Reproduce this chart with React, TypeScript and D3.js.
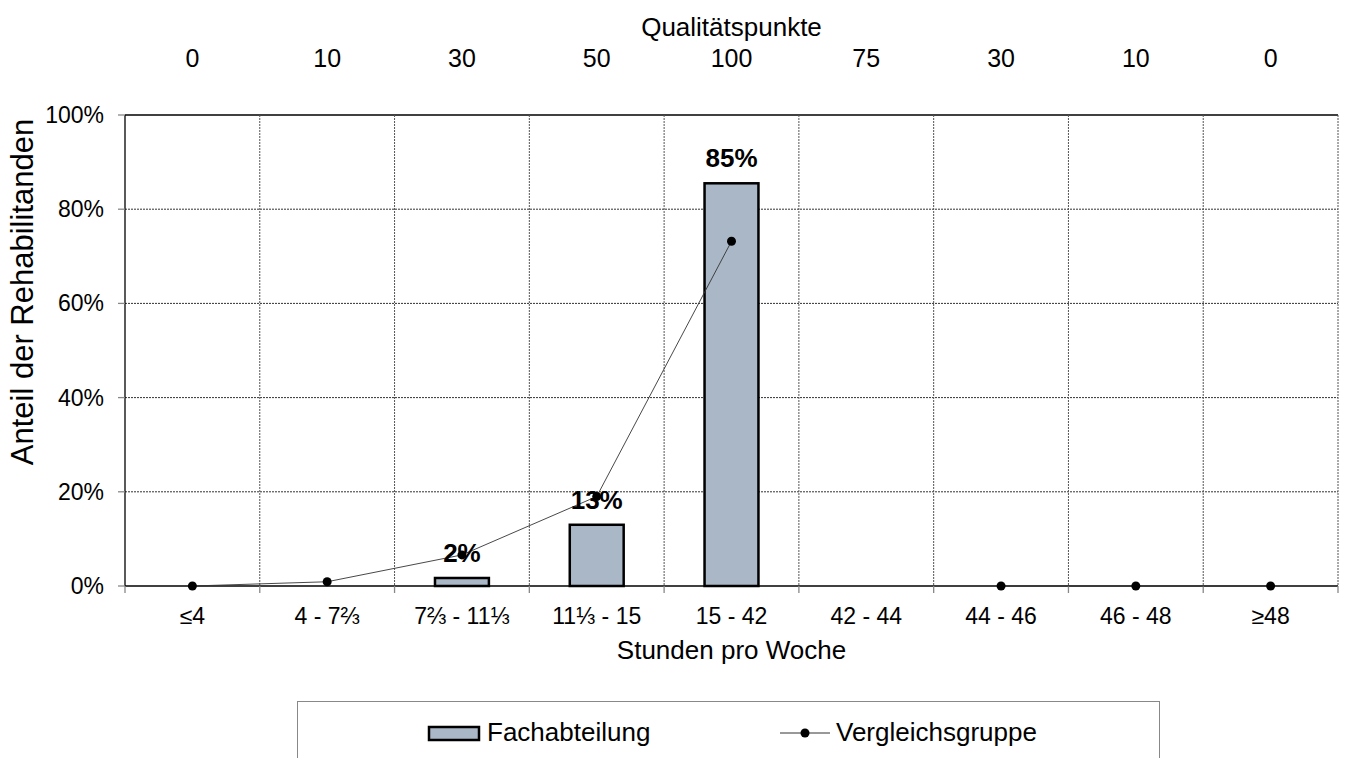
import React from "react";
import * as d3 from "d3";

const categories = ["≤4", "4 - 7⅔", "7⅔ - 11⅓", "11⅓ - 15", "15 - 42", "42 - 44", "44 - 46", "46 - 48", "≥48"];
const qualityPoints = ["0", "10", "30", "50", "100", "75", "30", "10", "0"];
const fachabteilung: (number | null)[] = [null, null, 1.7, 13.0, 85.5, null, null, null, null];
const fachLabels: (string | null)[] = [null, null, "2%", "13%", "85%", null, null, null, null];
const vergleichsgruppe: (number | null)[] = [0, 0.9, 6.6, 19.0, 73.2, null, 0, 0, 0];
const yTicks = [0, 20, 40, 60, 80, 100];

const W = 1346, H = 758;
const left = 125, right = 1338, top = 115, bottom = 586;
const FONT = "'Liberation Sans', Arial, sans-serif";

export default function App() {
  const x = d3.scaleBand<string>().domain(categories).range([left, right]).paddingInner(0).paddingOuter(0);
  const y = d3.scaleLinear().domain([0, 100]).range([bottom, top]);
  const bw = x.bandwidth();
  const barW = bw * 0.4;
  const cx = (c: string) => (x(c) as number) + bw / 2;

  const line = d3.line<[string, number | null]>()
    .defined(d => d[1] !== null)
    .x(d => cx(d[0]))
    .y(d => y(d[1] as number));
  const pts: [string, number | null][] = categories.map((c, i) => [c, vergleichsgruppe[i]]);

  const boundaries = d3.range(categories.length + 1).map(i => left + i * bw);

  return (
    <svg width={W} height={H} style={{ position: "absolute", left: 0, top: 0, fontFamily: FONT }}>
      <rect x={0} y={0} width={W} height={H} fill="#fff" />
      {/* horizontal gridlines */}
      {yTicks.filter(t => t > 0 && t < 100).map(t => (
        <line key={"hg" + t} x1={left} x2={right} y1={y(t)} y2={y(t)} stroke="#333" strokeWidth={1} strokeDasharray="2,1" />
      ))}
      <line x1={left} x2={right} y1={y(100)} y2={y(100)} stroke="#000" strokeWidth={1.3} />
      {/* vertical gridlines */}
      {boundaries.slice(1).map((bx, i) => (
        <line key={"vg" + i} x1={bx} x2={bx} y1={top} y2={bottom} stroke="#555" strokeWidth={1} strokeDasharray="2,1" />
      ))}
      {/* y axis */}
      <line x1={left} x2={left} y1={top} y2={bottom} stroke="#000" strokeWidth={1.3} />
      {yTicks.map(t => (
        <g key={"yt" + t}>
          <line x1={left - 7} x2={left} y1={y(t)} y2={y(t)} stroke="#888" strokeWidth={1.3} />
          <text x={104} y={y(t)} dy="0.35em" textAnchor="end" fontSize={23}>{t}%</text>
        </g>
      ))}
      {/* bars */}
      {categories.map((c, i) => fachabteilung[i] === null ? null : (
        <rect key={"b" + i} x={cx(c) - barW / 2} y={y(fachabteilung[i] as number)} width={barW}
          height={bottom - y(fachabteilung[i] as number)} fill="#a9b7c6" stroke="#000" strokeWidth={2.5} />
      ))}
      {/* x axis */}
      <line x1={left} x2={right} y1={bottom} y2={bottom} stroke="#000" strokeWidth={1.5} />
      {boundaries.map((bx, i) => (
        <line key={"xt" + i} x1={bx} x2={bx} y1={bottom} y2={bottom + 7} stroke="#888" strokeWidth={1.3} />
      ))}
      {categories.map(c => (
        <text key={"xl" + c} x={cx(c)} y={624} textAnchor="middle" fontSize={23}>{c}</text>
      ))}
      <text x={(left + right) / 2} y={659} textAnchor="middle" fontSize={26}>Stunden pro Woche</text>
      {/* top axis */}
      <text x={(left + right) / 2} y={36} textAnchor="middle" fontSize={26}>Qualitätspunkte</text>
      {categories.map((c, i) => (
        <text key={"qp" + i} x={cx(c)} y={67} textAnchor="middle" fontSize={25}>{qualityPoints[i]}</text>
      ))}
      {/* y label */}
      <text transform={`translate(33,${292}) rotate(-90)`} textAnchor="middle" fontSize={31}>Anteil der Rehabilitanden</text>
      {/* line series */}
      <path d={line(pts) || ""} fill="none" stroke="#333" strokeWidth={0.9} />
      {pts.filter(d => d[1] !== null).map((d, i) => (
        <circle key={"p" + i} cx={cx(d[0])} cy={y(d[1] as number)} r={4.5} fill="#000" />
      ))}
      {/* bar labels */}
      {categories.map((c, i) => fachLabels[i] === null ? null : (
        <text key={"bl" + i} x={cx(c)} y={y(fachabteilung[i] as number) - 16} textAnchor="middle" fontSize={26} fontWeight="bold">{fachLabels[i]}</text>
      ))}
      {/* legend */}
      <rect x={297.5} y={701.5} width={862} height={80} fill="#fff" stroke="#888" strokeWidth={1} />
      <rect x={429} y={727} width={50} height={13} fill="#a9b7c6" stroke="#000" strokeWidth={2.5} />
      <text x={487} y={741} fontSize={26}>Fachabteilung</text>
      <line x1={780} x2={830} y1={733} y2={733} stroke="#333" strokeWidth={1} />
      <circle cx={805} cy={733} r={4.5} fill="#000" />
      <text x={836} y={741} fontSize={26}>Vergleichsgruppe</text>
    </svg>
  );
}
